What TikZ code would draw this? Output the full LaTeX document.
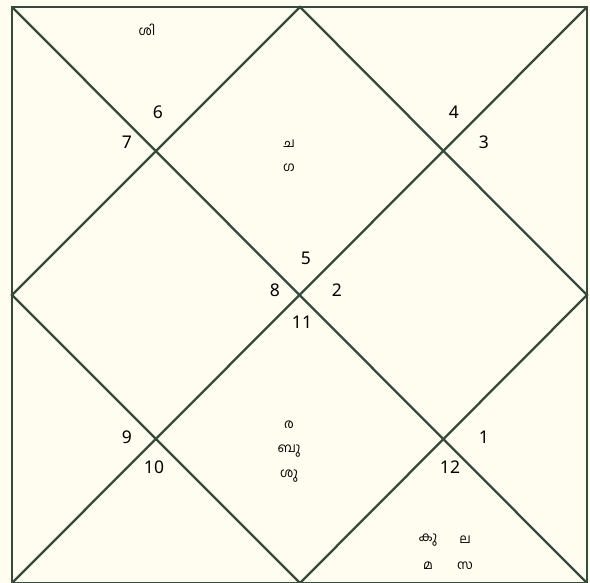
\documentclass[tikz,border=0pt]{standalone}
\usepackage{fontspec}
\setmainfont{Noto Sans}
\newfontfamily\mlfont[Script=Malayalam]{Hind Kochi}
\definecolor{bgc}{HTML}{FFFDF0}
\definecolor{linec}{HTML}{374A3C}
\begin{document}
\begin{tikzpicture}[x=1pt,y=-1pt,
  chartline/.style={draw=linec,line width=2.3pt},
  num/.style={font=\fontsize{17.5}{19}\selectfont,text=black,inner sep=0pt},
  ml/.style={font=\mlfont\fontsize{13}{15}\selectfont,text=black,inner sep=0pt}]
\useasboundingbox (0,0) rectangle (590,583);
\fill[bgc] (0,0) rectangle (590,583);
\coordinate (tl) at (12,7);
\coordinate (tr) at (587,7);
\coordinate (br) at (587,583);
\coordinate (bl) at (12,583);
\coordinate (tm) at (300,7);
\coordinate (rm) at (587,295);
\coordinate (bm) at (300,583);
\coordinate (lm) at (12,295);
\draw[chartline] (tl) -- (tr) -- (br) -- (bl) -- cycle;
\draw[chartline] (tl) -- (br);
\draw[chartline] (tr) -- (bl);
\draw[chartline] (tm) -- (rm) -- (bm) -- (lm) -- cycle;
% numbers
\node[num] (n6) at (158,112) {6};
\node[num] (n7) at (127,142) {7};
\node[num] (n4) at (454,112) {4};
\node[num] (n3) at (484,142) {3};
\node[num] (n5) at (306,258) {5};
\node[num] (n8) at (275,290) {8};
\node[num] (n2) at (337,290) {2};
\node[num] (n11) at (302,322) {11};
\node[num] (n9) at (127,437) {9};
\node[num] (n10) at (154,467) {10};
\node[num] (n1) at (484,437) {1};
\node[num] (n12) at (450,467) {12};
% planets
\node[ml] (p1) at (147,30) {ശി};
\node[ml] (p2) at (289,144) {ച};
\node[ml] (p3) at (289,168) {ഗ};
\node[ml] (p4) at (289,425) {ര};
\node[ml] (p5) at (289,451) {ബു};
\node[ml] (p6) at (289,476) {ശു};
\node[ml] (p7) at (428,540) {കു};
\node[ml] (p8) at (465,540) {ല};
\node[ml] (p9) at (428,566) {മ};
\node[ml] (p10) at (465,566) {സ};
\end{tikzpicture}
\end{document}
